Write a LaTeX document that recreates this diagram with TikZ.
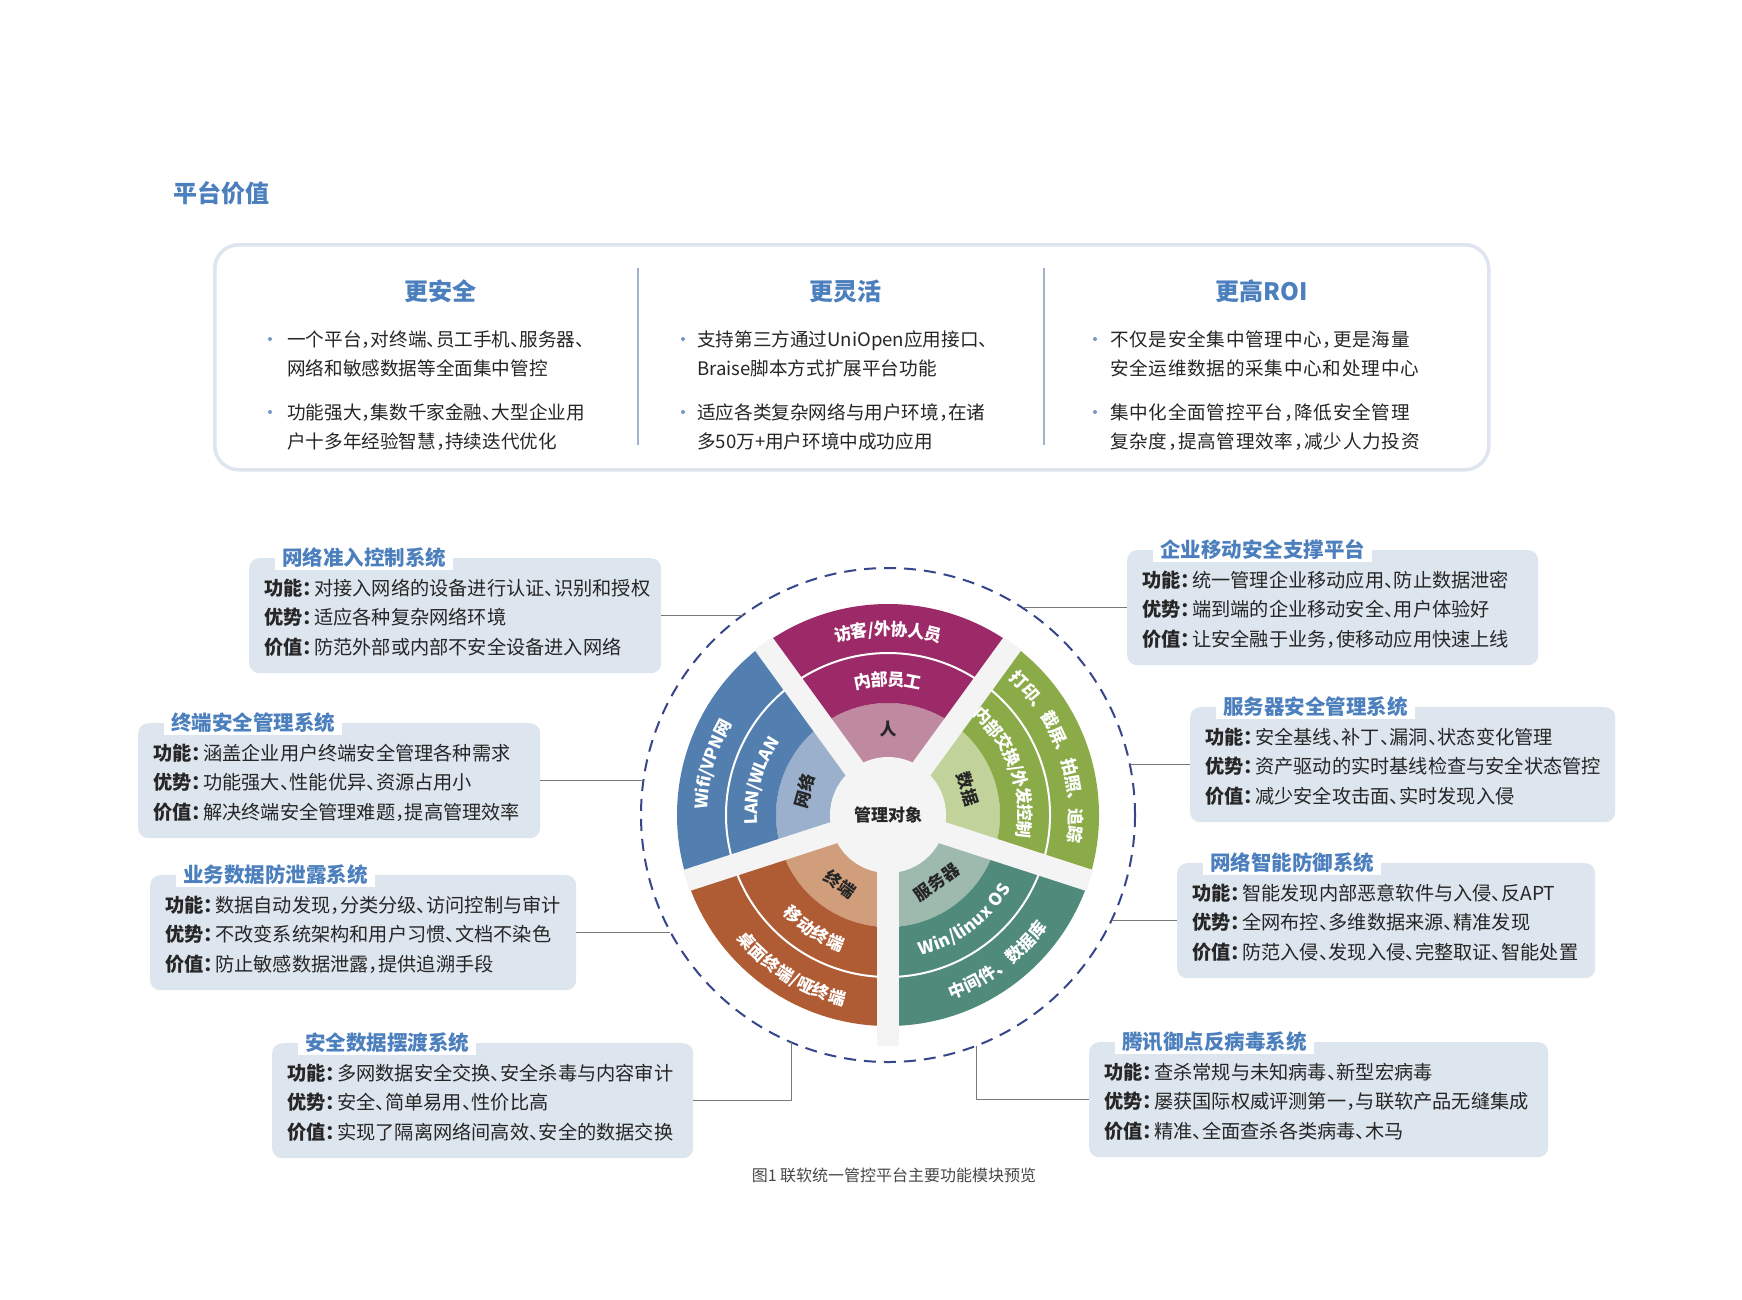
\documentclass[tikz,border=0pt]{standalone}
\usepackage{fontspec}
\usepackage{tikz}
\usepackage{xcolor}
\usetikzlibrary{decorations.text}
\setmainfont{Noto Sans CJK SC}
\newfontfamily\halffont{Noto Sans CJK SC}[RawFeature=+halt]

\definecolor{titleblue}{RGB}{76,127,189}
\definecolor{framegray}{RGB}{222,229,238}
\definecolor{boxfill}{RGB}{221,229,238}
\definecolor{dotblue}{RGB}{120,152,196}
\definecolor{rulegray}{RGB}{160,178,204}
\definecolor{ringnavy}{RGB}{55,70,138}
\definecolor{linkgray}{RGB}{120,120,120}
\definecolor{hubgray}{RGB}{244,244,244}
\definecolor{txtdark}{RGB}{38,38,38}
\definecolor{magD}{RGB}{156,42,104}
\definecolor{magL}{RGB}{191,138,160}
\definecolor{bluD}{RGB}{82,127,175}
\definecolor{bluL}{RGB}{154,176,204}
\definecolor{greD}{RGB}{139,170,72}
\definecolor{greL}{RGB}{193,211,154}
\definecolor{teaD}{RGB}{80,138,122}
\definecolor{teaL}{RGB}{158,186,175}
\definecolor{oraD}{RGB}{175,91,52}
\definecolor{oraL}{RGB}{209,158,124}

\newcommand{\wheelfont}{\fontsize{17}{17}\selectfont\bfseries}
% text on an arc of the wheel: radius, from, to, text
\newcommand{\arclabel}[4]{%
  \path[decorate,decoration={text along path,text align=center,raise=-6.5pt,
    text={|\wheelfont\color{white}|#4}}]
    (#2:#1) arc[start angle=#2,end angle=#3,radius=#1];}
% system box: name, x, y, width, title, function, advantage, value
\newcommand{\sysbox}[8]{%
  \node[sys box,minimum width=#4pt,anchor=north west] (#1) at (#2,-#3) {};
  \node[sys title,anchor=west] (#1-title) at ([xshift=26pt]#1.north west) {#5};
  \node[sys text,anchor=west] (#1-text) at ([xshift=15pt,yshift=-2pt]#1.west)
    {\textbf{功能：}\kern2pt#6\\\textbf{优势：}\kern2pt#7\\\textbf{价值：}\kern2pt#8};}

\begin{document}
\begin{tikzpicture}%
  [x=1pt,y=1pt,line join=round]
  \tikzstyle{sys box}=[rectangle,rounded corners=10pt,fill=boxfill,minimum height=115pt,inner sep=0]
  \tikzstyle{sys title}=[fill=white,text=titleblue,inner xsep=7pt,inner ysep=2pt,
    font=\halffont\fontsize{20.5}{20.5}\selectfont\bfseries]
  \tikzstyle{sys text}=[align=left,inner sep=0,text=txtdark,
    font=\halffont\fontsize{19.2}{29.5}\selectfont]
  \tikzstyle{head}=[text=titleblue,font=\fontsize{24}{24}\selectfont\bfseries]
  \tikzstyle{item}=[align=left,inner sep=0,text=txtdark,
    font=\halffont\fontsize{18.6}{29.5}\selectfont]
  \tikzstyle{link}=[draw=linkgray,line width=1.2pt]
  \tikzstyle{spoke}=[draw=hubgray,line width=22pt]
  \tikzstyle{inner label}=[text=txtdark,inner sep=0,font=\wheelfont]

  \fill[white] (0,0) rectangle (1742,-1299);
  \useasboundingbox (0,0) rectangle (1742,-1299);

  % platform value
  \node[head,anchor=west,inner sep=0] (pagehead) at (173,-193) {平台价值};
  \node[rectangle,rounded corners=24pt,draw=framegray,line width=3.5pt,
    minimum width=1274pt,minimum height=225pt,anchor=north west] (frame) at (213,-243) {};
  \draw[rulegray,line width=1.2pt] (638,-268) -- (638,-445);
  \draw[rulegray,line width=1.2pt] (1044,-268) -- (1044,-445);
  \node[head] (safe) at (440,-291) {更安全};
  \node[head] (agile) at (845,-291) {更灵活};
  \node[head] (roi) at (1262,-291) {更高ROI};
  \foreach \x in {270,683,1095}
    \foreach \y in {-339,-412}
      \fill[dotblue] (\x,\y) circle[radius=2];
  \node[item,anchor=west] (safe-a) at (287,-354) {一个平台，对终端、员工手机、服务器、\\网络和敏感数据等全面集中管控};
  \node[item,anchor=west] (safe-b) at (287,-427) {功能强大，集数千家金融、大型企业用\\户十多年经验智慧，持续迭代优化};
  \node[item,anchor=west] (agile-a) at (697,-354) {支持第三方通过UniOpen应用接口、\\Braise脚本方式扩展平台功能};
  \node[item,anchor=west] (agile-b) at (697,-427) {适应各类复杂网络与用户环境，在诸\\多50万+用户环境中成功应用};
  \node[item,anchor=west] (roi-a) at (1110,-354) {\addfontfeature{LetterSpace=4}不仅是安全集中管理中心，更是海量\\\addfontfeature{LetterSpace=4}安全运维数据的采集中心和处理中心};
  \node[item,anchor=west] (roi-b) at (1110,-427) {\addfontfeature{LetterSpace=4}集中化全面管控平台，降低安全管理\\\addfontfeature{LetterSpace=4}复杂度，提高管理效率，减少人力投资};

  % management wheel
  \node[circle,draw=ringnavy,line width=2pt,dash pattern=on 12pt off 8pt,
    minimum size=494pt,inner sep=0,outer sep=0] (ring) at (888,-815) {};
  \begin{scope}[shift={(888,-815)}]
    \foreach \a/\dk/\lt in {90/magD/magL,162/bluD/bluL,234/oraD/oraL,306/teaD/teaL,18/greD/greL}{
      \fill[\lt] (\a-36:57) arc[start angle=\a-36,end angle=\a+36,radius=57]
        -- (\a+36:112) arc[start angle=\a+36,end angle=\a-36,radius=112] -- cycle;
      \fill[\dk] (\a-36:112) arc[start angle=\a-36,end angle=\a+36,radius=112]
        -- (\a+36:211) arc[start angle=\a+36,end angle=\a-36,radius=211] -- cycle;
      \draw[white,line width=2pt] (\a-36:162) arc[start angle=\a-36,end angle=\a+36,radius=162];
    }
    \foreach \a in {54,126,198,342}
      \draw[spoke] (0,0) -- (\a:212);
    \draw[spoke] (0,0) -- (270:231);
    \fill[hubgray] (0,0) circle[radius=58];
    \node[inner label] (hub) at (0,0) {管理对象};
    \node[inner label] (people) at (90:86) {人};
    \node[inner label,rotate=74] (net) at (164:87) {网络};
    \node[inner label,rotate=-72] (data) at (18:84) {数据};
    \node[inner label,rotate=-36] (term) at (235:84) {终端};
    \node[inner label,rotate=36] (server) at (306:83) {服务器};
    \arclabel{186}{126}{54}{访客/外协人员}
    \arclabel{136}{126}{54}{内部员工}
    \arclabel{187}{200}{128}{Wifi/VPN网}
    \arclabel{137}{201}{129}{LAN/WLAN}
    \arclabel{188}{56}{-16}{打印、截屏、拍照、追踪}
    \arclabel{137}{56}{-16}{内部交换/外发控制}
    \arclabel{188}{271}{343}{中间件、数据库}
    \arclabel{137}{270}{342}{Win/linux OS}
    \arclabel{189}{202}{274}{桌面终端/哑终端}
    \arclabel{138}{201}{273}{移动终端}
  \end{scope}

  % systems around the wheel
  \sysbox{nac}{249}{558}{412}{网络准入控制系统}{对接入网络的设备进行认证、识别和授权}{适应各种复杂网络环境}{防范外部或内部不安全设备进入网络}
  \sysbox{edr}{138}{723}{402}{终端安全管理系统}{涵盖企业用户终端安全管理各种需求}{功能强大、性能优异、资源占用小}{解决终端安全管理难题，提高管理效率}
  \sysbox{dlp}{150}{875}{426}{业务数据防泄露系统}{数据自动发现，分类分级、访问控制与审计}{不改变系统架构和用户习惯、文档不染色}{防止敏感数据泄露，提供追溯手段}
  \sysbox{ferry}{272}{1043}{421}{安全数据摆渡系统}{多网数据安全交换、安全杀毒与内容审计}{安全、简单易用、性价比高}{实现了隔离网络间高效、安全的数据交换}
  \sysbox{emm}{1127}{550}{411}{企业移动安全支撑平台}{统一管理企业移动应用、防止数据泄密}{端到端的企业移动安全、用户体验好}{让安全融于业务，使移动应用快速上线}
  \sysbox{srv}{1190}{707}{425}{服务器安全管理系统}{安全基线、补丁、漏洞、状态变化管理}{资产驱动的实时基线检查与安全状态管控}{减少安全攻击面、实时发现入侵}
  \sysbox{nids}{1177}{863}{418}{网络智能防御系统}{智能发现内部恶意软件与入侵、反APT}{全网布控、多维数据来源、精准发现}{防范入侵、发现入侵、完整取证、智能处置}
  \sysbox{av}{1089}{1042}{459}{腾讯御点反病毒系统}{查杀常规与未知病毒、新型宏病毒}{屡获国际权威评测第一，与联软产品无缝集成}{精准、全面查杀各类病毒、木马}

  \draw[link] (nac.east) -- (nac.east -| ring.126);
  \draw[link] (edr.east) -- (edr.east -| ring.172);
  \draw[link] (dlp.east) -- (dlp.east -| ring.208);
  \draw[link] (ferry.east) -- (ferry.east -| ring.247) -- (ring.247);
  \draw[link] (emm.west) -- (emm.west -| ring.57);
  \draw[link] (srv.west) -- (srv.west -| ring.12);
  \draw[link] (nids.west) -- (nids.west -| ring.335);
  \draw[link] (av.west) -- (av.west -| ring.291) -- (ring.291);

  \node[text=txtdark!85,font=\fontsize{16}{16}\selectfont] (caption) at (894,-1175)
    {图1 联软统一管控平台主要功能模块预览};
\end{tikzpicture}
\end{document}
